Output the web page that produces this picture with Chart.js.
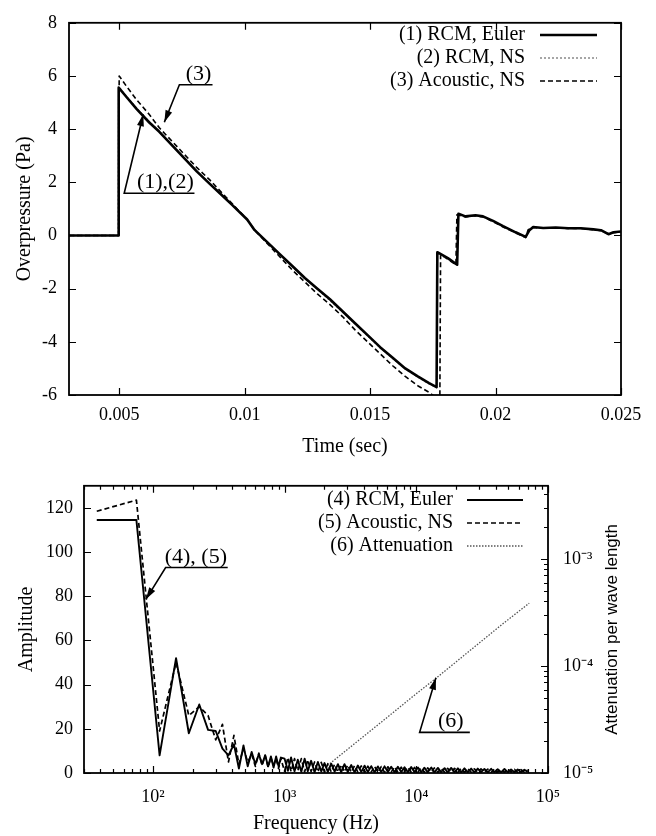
<!DOCTYPE html>
<html>
<head>
<meta charset="utf-8">
<script src="https://cdn.jsdelivr.net/npm/chart.js@4.4.1/dist/chart.umd.min.js"></script>
<style>
  html, body { margin: 0; padding: 0; background: #fff; }
  #page { position: relative; width: 656px; height: 836px; }
  .box { position: absolute; left: 0; width: 656px; }
  #topBox { top: 0; height: 461px; }
  #botBox { top: 460px; height: 376px; }
</style>
</head>
<body>
<div id="page">
  <div class="box" id="topBox"><canvas id="pressureChart" width="656" height="461"></canvas></div>
  <div class="box" id="botBox"><canvas id="spectrumChart" width="656" height="376"></canvas></div>
</div>
<script>
// ---- top plot: overpressure signal
const eulerTime = [0.003, 0.00496, 0.00498, 0.0053, 0.0057, 0.0062, 0.0066, 0.0071, 0.0076, 0.0081,
  0.0086, 0.009, 0.0095, 0.0101, 0.0104, 0.0109, 0.0114, 0.0119, 0.0124, 0.0129,
  0.0134, 0.0139, 0.0144, 0.0149, 0.0154, 0.0159, 0.0164, 0.0169, 0.01735, 0.01765,
  0.01768, 0.0181, 0.01847, 0.01852, 0.0188, 0.0192, 0.0195, 0.0199, 0.0203, 0.0208,
  0.0212, 0.02135, 0.0215, 0.0219, 0.0224, 0.0229, 0.0234, 0.0239, 0.0242, 0.0245, 0.0247, 0.025];
const eulerPa = [0, 0, 5.56, 5.2, 4.75, 4.25, 3.9, 3.4, 2.9, 2.4,
  1.95, 1.6, 1.15, 0.6, 0.2, -0.25, -0.7, -1.15, -1.6, -2.0,
  -2.4, -2.85, -3.3, -3.75, -4.2, -4.6, -5.0, -5.3, -5.55, -5.7,
  -0.63, -0.85, -1.1, 0.82, 0.72, 0.76, 0.72, 0.55, 0.35, 0.12,
  -0.05, 0.2, 0.32, 0.28, 0.3, 0.27, 0.27, 0.23, 0.2, 0.05, 0.12, 0.15];
const nsPa = [0, 0, 5.6, 5.22, 4.78, 4.28, 3.92, 3.42, 2.92, 2.42,
  1.97, 1.62, 1.15, 0.62, 0.22, -0.25, -0.72, -1.18, -1.62, -2.02,
  -2.45, -2.88, -3.32, -3.78, -4.22, -4.63, -5.02, -5.33, -5.58, -5.72,
  -0.66, -0.88, -1.12, 0.8, 0.72, 0.74, 0.7, 0.54, 0.33, 0.1,
  -0.06, 0.18, 0.3, 0.27, 0.29, 0.26, 0.26, 0.22, 0.18, 0.04, 0.1, 0.14];
const acousticTime = [0.003, 0.00498, 0.005, 0.0053, 0.0057, 0.0062, 0.0066, 0.0071, 0.0076, 0.0081,
  0.0086, 0.009, 0.0095, 0.0101, 0.0104, 0.0109, 0.0114, 0.0119, 0.0124, 0.0129,
  0.0134, 0.0139, 0.0144, 0.0149, 0.0154, 0.0159, 0.0164, 0.0169, 0.01735, 0.01778,
  0.01781, 0.0181, 0.01842, 0.01846, 0.0188, 0.0192, 0.0195, 0.0199, 0.0203, 0.0208,
  0.0212, 0.0213, 0.0215, 0.0219, 0.0224, 0.0229, 0.0234, 0.0239, 0.0242, 0.0245, 0.0247, 0.025];
const acousticPa = [0, 0, 6.0, 5.6, 5.1, 4.55, 4.05, 3.55, 3.05, 2.55,
  2.1, 1.7, 1.2, 0.6, 0.2, -0.3, -0.8, -1.3, -1.75, -2.2,
  -2.6, -3.05, -3.55, -4.0, -4.45, -4.9, -5.3, -5.65, -5.9, -6.2,
  -0.72, -0.9, -1.1, 0.78, 0.7, 0.74, 0.7, 0.52, 0.32, 0.1,
  -0.08, 0.22, 0.3, 0.27, 0.29, 0.26, 0.26, 0.22, 0.18, 0.06, 0.1, 0.14];
const timeTicks = [0.005, 0.01, 0.015, 0.02, 0.025];
const pressureTicks = [-6, -4, -2, 0, 2, 4, 6, 8];

// ---- bottom plot: spectrum and attenuation
const spectrumFreq = [37.5, 75, 112.5, 150, 187.5, 225, 262.5, 300, 337.5, 375,
  412.5, 450, 487.5, 525, 562.5, 600, 637.5, 675, 712.5, 750,
  787.5, 825, 862.5, 900, 937.5,
  1000, 1060, 1120, 1190, 1260, 1340, 1420, 1500, 1590, 1690,
  1790, 1900, 2010, 2130, 2260, 2400, 2540, 2690, 2850, 3020,
  3210, 3400, 3600, 3820, 4050, 4290, 4550, 4820, 5110, 5420,
  5740, 6090, 6450, 6840, 7250, 7680, 8140, 8630, 9150, 9700,
  10300, 10900, 11500, 12200, 13000, 13700, 14600, 15400, 16400, 17300,
  18400, 19500, 20700, 21900, 23200, 24600, 26100, 27600, 29300, 31000,
  32900, 34900, 37000, 39200, 41500, 44000, 46700, 49500, 52400, 55600,
  58900, 62400, 66200, 70200];
const eulerAmp = [114.5, 114.5, 8, 52, 18, 31, 19.5, 19, 11, 8,
  13, 2, 12.5, 3, 9.5, 4, 8.5, 4, 8, 3,
  7.5, 2.5, 7.5, 3, 7,
  6.5, 1, 7, 0.8, 6, 0.6, 6.5, 0.8, 5.5, 0.4,
  5, 0.7, 4.5, 0.5, 4.2, 0.6, 4, 0.4, 4, 0.5,
  3.6, 0.3, 3.4, 0.5, 3.3, 0.4, 3.1, 0.3, 3, 0.5,
  3, 0.4, 2.8, 0.3, 2.8, 0.4, 2.6, 0.3, 2.7, 0.4,
  2.5, 0.3, 2.4, 0.4, 2.5, 0.3, 2.3, 0.4, 2.2, 0.3,
  2.3, 0.4, 2.1, 0.3, 2.1, 0.4, 2, 0.3, 2, 0.4,
  1.8, 0.3, 1.9, 0.4, 1.7, 0.3, 1.8, 0.4, 1.6, 0.3,
  1.6, 0.4, 1.5, 0.5];
const acousticAmp = [118.5, 123.5, 19, 50, 26, 30, 26, 15, 22, 5,
  17, 4, 11, 5, 8.5, 3, 9, 3.5, 8, 2.5,
  7, 3.5, 6.5, 2, 6.5,
  0.8, 7, 0.6, 6.5, 1, 6.5, 0.5, 6, 0.7, 5,
  0.5, 4.8, 0.4, 4.2, 0.5, 4, 0.4, 3.8, 0.5, 3.6,
  0.4, 3.4, 0.4, 3.2, 0.3, 3.1, 0.4, 3, 0.3, 2.9,
  0.3, 2.8, 0.4, 2.8, 0.3, 2.6, 0.4, 2.6, 0.3, 2.5,
  0.4, 2.4, 0.3, 2.3, 0.4, 2.3, 0.3, 2.2, 0.4, 2.1,
  0.3, 2.1, 0.4, 2, 0.3, 2, 0.4, 1.9, 0.3, 1.9,
  0.4, 1.8, 0.3, 1.8, 0.4, 1.7, 0.3, 1.7, 0.4, 1.6,
  0.3, 1.5, 0.4, 1.4];
const attenFreq = [1800, 3000, 6000, 10000, 14000, 25000, 45000, 72000];
const attenValue = [1.0e-5, 1.66e-5, 3.3e-5, 5.5e-5, 7.6e-5, 1.36e-4, 2.45e-4, 3.85e-4];
const freqDecades = [100, 1000, 10000, 100000];
const freqTickLabels = ['10²', '10³', '10⁴', '10⁵'];
const ampTicks = [0, 20, 40, 60, 80, 100, 120];
const attenDecades = [1e-5, 1e-4, 1e-3];
const attenTickLabels = ['10⁻⁵', '10⁻⁴', '10⁻³'];
const attenTitle = 'Attenuation per wave length';

const SERIF = "'Liberation Serif', 'Times New Roman', serif";
Chart.defaults.font.family = SERIF;
Chart.defaults.color = '#000';

const pts = (xs, ys) => xs.map((x, i) => ({ x, y: ys[i] }));

// log axis ticks: decades are major, 2..9 multiples are minor
function logTicks(min, max) {
  const out = [];
  for (let d = Math.floor(Math.log10(min)); d <= Math.ceil(Math.log10(max)); d++) {
    for (let m = 1; m <= 9; m++) {
      const v = m * Math.pow(10, d);
      if (v >= min * 0.9999 && v <= max * 1.0001) out.push({ value: v, major: m === 1 });
    }
  }
  return out;
}
function decadeLabel(v, decades, labels) {
  const i = decades.findIndex(d => Math.abs(d - v) / d < 1e-6);
  return i >= 0 ? labels[i] : '';
}

// frame with inward ticks (gnuplot style)
const frameTicks = {
  id: 'frameTicks',
  afterDatasetsDraw(chart, args, opts) {
    const { ctx, chartArea: a } = chart;
    ctx.save();
    ctx.strokeStyle = '#000';
    ctx.lineWidth = 1.2;
    ctx.beginPath();
    for (const s of Object.values(chart.scales)) {
      const sides = opts.sides[s.id] || [];
      for (const t of s.ticks) {
        const len = t.major ? 7 : 4;
        const p = Math.round(s.getPixelForValue(t.value)) + 0.5;
        for (const side of sides) {
          if (side === 'bottom') { ctx.moveTo(p, a.bottom); ctx.lineTo(p, a.bottom - len); }
          if (side === 'top') { ctx.moveTo(p, a.top); ctx.lineTo(p, a.top + len); }
          if (side === 'left') { ctx.moveTo(a.left, p); ctx.lineTo(a.left + len, p); }
          if (side === 'right') { ctx.moveTo(a.right, p); ctx.lineTo(a.right - len, p); }
        }
      }
    }
    ctx.stroke();
    ctx.lineWidth = 1.8;
    ctx.strokeRect(a.left, a.top, a.right - a.left, a.bottom - a.top);
    ctx.restore();
  }
};

// key: text right aligned, then line sample
const keyBox = {
  id: 'keyBox',
  afterDatasetsDraw(chart, args, o) {
    const ctx = chart.ctx;
    ctx.save();
    ctx.font = o.font;
    ctx.textAlign = 'right';
    ctx.textBaseline = 'middle';
    ctx.fillStyle = '#000';
    chart.data.datasets.forEach((ds, i) => {
      const y = o.y + i * o.step;
      ctx.fillText(ds.label, o.textRight, y);
      ctx.strokeStyle = ds.borderColor;
      ctx.lineWidth = ds.borderWidth;
      ctx.setLineDash(ds.borderDash || []);
      ctx.beginPath();
      ctx.moveTo(o.x1, y);
      ctx.lineTo(o.x2, y);
      ctx.stroke();
    });
    ctx.restore();
  }
};

// labels with an underline and an arrow pointing at a curve
const callouts = {
  id: 'callouts',
  afterDatasetsDraw(chart, args, o) {
    const { ctx, scales } = chart;
    const xs = scales.x, ys = scales.y;
    ctx.save();
    ctx.font = o.font;
    ctx.fillStyle = '#000';
    ctx.strokeStyle = '#000';
    ctx.lineWidth = 1.6;
    for (const c of o.items) {
      const u0 = xs.getPixelForValue(c.under[0]);
      const u1 = xs.getPixelForValue(c.under[1]);
      const uy = ys.getPixelForValue(c.level);
      const tx = xs.getPixelForValue(c.tip[0]);
      const ty = ys.getPixelForValue(c.tip[1]);
      ctx.beginPath();
      ctx.moveTo(u1, uy);
      ctx.lineTo(u0, uy);
      ctx.lineTo(tx, ty);
      ctx.stroke();
      const ang = Math.atan2(ty - uy, tx - u0);
      const L = 12, W = 3.5;
      ctx.beginPath();
      ctx.moveTo(tx, ty);
      ctx.lineTo(tx - L * Math.cos(ang) + W * Math.sin(ang), ty - L * Math.sin(ang) - W * Math.cos(ang));
      ctx.lineTo(tx - L * Math.cos(ang) - W * Math.sin(ang), ty - L * Math.sin(ang) + W * Math.cos(ang));
      ctx.closePath();
      ctx.fill();
      ctx.textAlign = 'center';
      ctx.textBaseline = 'alphabetic';
      ctx.fillText(c.text, xs.getPixelForValue(c.textAt), uy - 5);
    }
    ctx.restore();
  }
};

// right axis title reading bottom-to-top
const sideTitle = {
  id: 'sideTitle',
  afterDraw(chart, args, o) {
    if (!o.text) return;
    const { ctx, chartArea: a } = chart;
    ctx.save();
    ctx.font = o.font;
    ctx.fillStyle = '#000';
    ctx.textAlign = 'center';
    ctx.textBaseline = 'middle';
    ctx.translate(o.x, (a.top + a.bottom) / 2);
    ctx.rotate(-Math.PI / 2);
    ctx.fillText(o.text, 0, 0);
    ctx.restore();
  }
};

const tickFont = { family: SERIF, size: 18 };
const titleFont = { family: SERIF, size: 20 };
const noGrid = { display: false, drawTicks: false };

new Chart(document.getElementById('pressureChart'), {
  type: 'line',
  data: {
    datasets: [
      { label: '(1) RCM, Euler', data: pts(eulerTime, eulerPa), borderColor: '#000', borderWidth: 2.6 },
      { label: '(2) RCM, NS', data: pts(eulerTime, nsPa), borderColor: '#808080', borderWidth: 1.4, borderDash: [2, 2] },
      { label: '(3) Acoustic, NS', data: pts(acousticTime, acousticPa), borderColor: '#000', borderWidth: 1.6, borderDash: [5, 3] }
    ]
  },
  options: {
    responsive: false,
    animation: false,
    elements: { point: { radius: 0 }, line: { tension: 0, borderJoinStyle: 'round' } },
    layout: { padding: { top: 17, right: 35, left: 0, bottom: 0 } },
    plugins: {
      legend: { display: false },
      tooltip: { enabled: false },
      frameTicks: { sides: { x: ['bottom', 'top'], y: ['left', 'right'] } },
      keyBox: { font: `20px ${SERIF}`, textRight: 525, x1: 540, x2: 597, y: 35, step: 23 },
      callouts: {
        font: `22px ${SERIF}`,
        items: [
          { text: '(3)', under: [0.0074, 0.00872], level: 5.67, textAt: 0.00816, tip: [0.0068, 4.26] },
          { text: '(1),(2)', under: [0.0052, 0.008], level: 1.59, textAt: 0.00684, tip: [0.00596, 4.56] }
        ]
      }
    },
    scales: {
      x: {
        type: 'linear', min: 0.003, max: 0.025,
        afterBuildTicks: s => { s.ticks = timeTicks.map(v => ({ value: v, major: true })); },
        afterFit: s => { s.height = 66; },
        grid: noGrid, border: { display: false },
        ticks: { autoSkip: false, maxRotation: 0, padding: 9, font: tickFont, callback: v => String(v) },
        title: { display: true, text: 'Time (sec)', font: titleFont, padding: { top: 0, bottom: 2 } }
      },
      y: {
        type: 'linear', min: -6, max: 8,
        afterBuildTicks: s => { s.ticks = pressureTicks.map(v => ({ value: v, major: true })); },
        afterFit: s => { s.width = 69; },
        grid: noGrid, border: { display: false },
        ticks: { autoSkip: false, padding: 12, font: tickFont, callback: v => String(v) },
        title: { display: true, text: 'Overpressure (Pa)', font: titleFont, padding: { top: 13, bottom: 0 } }
      }
    }
  },
  plugins: [frameTicks, keyBox, callouts]
});

new Chart(document.getElementById('spectrumChart'), {
  type: 'line',
  data: {
    datasets: [
      { label: '(4) RCM, Euler', data: pts(spectrumFreq, eulerAmp), borderColor: '#000', borderWidth: 1.9, yAxisID: 'y' },
      { label: '(5) Acoustic, NS', data: pts(spectrumFreq, acousticAmp), borderColor: '#000', borderWidth: 1.7, borderDash: [5, 3], yAxisID: 'y' },
      { label: '(6) Attenuation', data: pts(attenFreq, attenValue), borderColor: '#555', borderWidth: 1.3, borderDash: [1.5, 1.5], yAxisID: 'y2' }
    ]
  },
  options: {
    responsive: false,
    animation: false,
    elements: { point: { radius: 0 }, line: { tension: 0, borderJoinStyle: 'round' } },
    layout: { padding: { top: 23, right: 0, left: 0, bottom: 0 } },
    plugins: {
      legend: { display: false },
      tooltip: { enabled: false },
      frameTicks: { sides: { x: ['bottom', 'top'], y: ['left'], y2: ['right'] } },
      keyBox: { font: `20px ${SERIF}`, textRight: 453, x1: 467, x2: 523, y: 40, step: 23 },
      callouts: {
        font: `22px ${SERIF}`,
        items: [
          { text: '(4), (5)', under: [125, 370], level: 93, textAt: 212, tip: [88.5, 78.6] },
          { text: '(6)', under: [10600, 25500], level: 18.4, textAt: 18300, tip: [14100, 43.1] }
        ]
      },
      sideTitle: { text: attenTitle, font: "17px 'Liberation Sans', Arial, sans-serif", x: 612 }
    },
    scales: {
      x: {
        type: 'logarithmic', min: 30, max: 100000,
        afterBuildTicks: s => { s.ticks = logTicks(30, 100000); },
        afterFit: s => { s.height = 63; },
        grid: noGrid, border: { display: false },
        ticks: { autoSkip: false, maxRotation: 0, padding: 13, font: tickFont,
          callback: v => decadeLabel(v, freqDecades, freqTickLabels) },
        title: { display: true, text: 'Frequency (Hz)', font: titleFont, padding: { top: 0, bottom: 0 } }
      },
      y: {
        type: 'linear', position: 'left', min: 0, max: 130,
        afterBuildTicks: s => { s.ticks = ampTicks.map(v => ({ value: v, major: true })); },
        afterFit: s => { s.width = 84; },
        grid: noGrid, border: { display: false },
        ticks: { autoSkip: false, padding: 11, font: tickFont, callback: v => String(v) },
        title: { display: true, text: 'Amplitude', font: titleFont, padding: { top: 15, bottom: 0 } }
      },
      y2: {
        type: 'logarithmic', position: 'right', min: 1e-5, max: 4.8e-3,
        afterBuildTicks: s => { s.ticks = logTicks(1e-5, 4.8e-3); },
        afterFit: s => { s.width = 108; },
        grid: noGrid, border: { display: false },
        ticks: { autoSkip: false, padding: 15, font: tickFont,
          callback: v => decadeLabel(v, attenDecades, attenTickLabels) }
      }
    }
  },
  plugins: [frameTicks, keyBox, callouts, sideTitle]
});
</script>
</body>
</html>
